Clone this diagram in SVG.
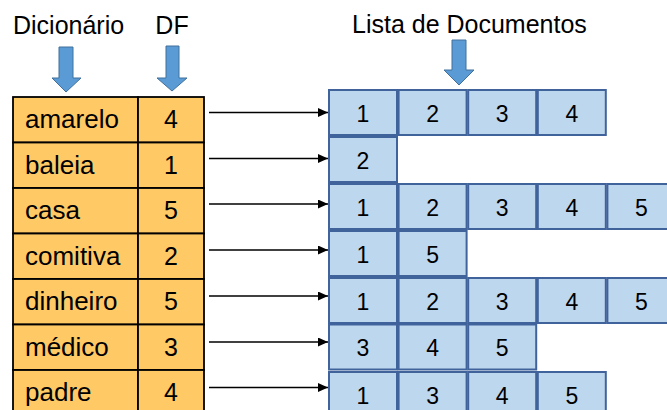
<svg xmlns="http://www.w3.org/2000/svg" width="667" height="410" viewBox="0 0 667 410">
<style>
text{font-family:"Liberation Sans",Arial,sans-serif;fill:#000}
.h{font-size:25px}
.w{font-size:26px}
.d{font-size:25px;text-anchor:middle}
.bd{font-size:23px;text-anchor:middle}
.cell{fill:#FFC966;stroke:#000;stroke-width:1.8}
.box{fill:#BDD7EE;stroke:#41639C;stroke-width:2}
.ba{fill:#5B9BD5;stroke:#41719C;stroke-width:1}
.conn{stroke:#000;stroke-width:1.6;fill:none;marker-end:url(#ah)}
</style>
<defs>
<marker id="ah" markerWidth="10" markerHeight="9" refX="10" refY="4.5" orient="auto" markerUnits="userSpaceOnUse">
<path d="M0,0 L10,4.5 L0,9 Z" fill="#000"/>
</marker>
</defs>
<rect width="667" height="410" fill="#fff"/>
<g id="headers">
<text class="h" x="13" y="34">Dicionário</text>
<text class="h" x="172" y="34" text-anchor="middle">DF</text>
<text class="h" x="352" y="33">Lista de Documentos</text>
<polygon class="ba" points="59,47 73,47 73,78 81,78 66,92 52,78 59,78"/>
<polygon class="ba" points="166,46 179,46 179,78 187,78 172,91 157,78 166,78"/>
<polygon class="ba" points="452,40 466,40 466,70 474,70 459,85 444,70 452,70"/>
</g>
<g id="table">
<g id="row-amarelo"><rect class="cell" x="13" y="97" width="125" height="45.5"/><rect class="cell" x="138" y="97" width="66" height="45.5"/><text class="w" x="25" y="128">amarelo</text><text class="d" x="171" y="128">4</text></g>
<g id="row-baleia"><rect class="cell" x="13" y="142.5" width="125" height="45.5"/><rect class="cell" x="138" y="142.5" width="66" height="45.5"/><text class="w" x="25" y="173.5">baleia</text><text class="d" x="171" y="173.5">1</text></g>
<g id="row-casa"><rect class="cell" x="13" y="188" width="125" height="45.5"/><rect class="cell" x="138" y="188" width="66" height="45.5"/><text class="w" x="25" y="219">casa</text><text class="d" x="171" y="219">5</text></g>
<g id="row-comitiva"><rect class="cell" x="13" y="233.5" width="125" height="45.5"/><rect class="cell" x="138" y="233.5" width="66" height="45.5"/><text class="w" x="25" y="264.5">comitiva</text><text class="d" x="171" y="264.5">2</text></g>
<g id="row-dinheiro"><rect class="cell" x="13" y="279" width="125" height="45.5"/><rect class="cell" x="138" y="279" width="66" height="45.5"/><text class="w" x="25" y="310">dinheiro</text><text class="d" x="171" y="310">5</text></g>
<g id="row-medico"><rect class="cell" x="13" y="324.5" width="125" height="45.5"/><rect class="cell" x="138" y="324.5" width="66" height="45.5"/><text class="w" x="25" y="355.5">médico</text><text class="d" x="171" y="355.5">3</text></g>
<g id="row-padre"><rect class="cell" x="13" y="370" width="125" height="45.5"/><rect class="cell" x="138" y="370" width="66" height="45.5"/><text class="w" x="25" y="401">padre</text><text class="d" x="171" y="401">4</text></g>
</g>
<g id="connectors">
<line class="conn" x1="209" y1="112.5" x2="328" y2="112.5"/>
<line class="conn" x1="209" y1="158.5" x2="328" y2="158.5"/>
<line class="conn" x1="209" y1="204" x2="328" y2="204"/>
<line class="conn" x1="209" y1="250" x2="328" y2="250"/>
<line class="conn" x1="209" y1="296" x2="328" y2="296"/>
<line class="conn" x1="209" y1="342" x2="328" y2="342"/>
<line class="conn" x1="209" y1="387.5" x2="328" y2="387.5"/>
</g>
<g id="list-amarelo">
<rect class="box" x="329" y="90" width="68" height="45"/><text class="bd" x="363" y="121.5">1</text>
<rect class="box" x="398.6" y="90" width="68" height="45"/><text class="bd" x="432.6" y="121.5">2</text>
<rect class="box" x="468.2" y="90" width="68" height="45"/><text class="bd" x="502.2" y="121.5">3</text>
<rect class="box" x="537.8" y="90" width="68" height="45"/><text class="bd" x="571.8" y="121.5">4</text>
</g>
<g id="list-baleia">
<rect class="box" x="329" y="137" width="68" height="45"/><text class="bd" x="363" y="168.5">2</text>
</g>
<g id="list-casa">
<rect class="box" x="329" y="184" width="68" height="45"/><text class="bd" x="363" y="215.5">1</text>
<rect class="box" x="398.6" y="184" width="68" height="45"/><text class="bd" x="432.6" y="215.5">2</text>
<rect class="box" x="468.2" y="184" width="68" height="45"/><text class="bd" x="502.2" y="215.5">3</text>
<rect class="box" x="537.8" y="184" width="68" height="45"/><text class="bd" x="571.8" y="215.5">4</text>
<rect class="box" x="607.4" y="184" width="68" height="45"/><text class="bd" x="641.4" y="215.5">5</text>
</g>
<g id="list-comitiva">
<rect class="box" x="329" y="231" width="68" height="45"/><text class="bd" x="363" y="262.5">1</text>
<rect class="box" x="398.6" y="231" width="68" height="45"/><text class="bd" x="432.6" y="262.5">5</text>
</g>
<g id="list-dinheiro">
<rect class="box" x="329" y="278" width="68" height="45"/><text class="bd" x="363" y="309.5">1</text>
<rect class="box" x="398.6" y="278" width="68" height="45"/><text class="bd" x="432.6" y="309.5">2</text>
<rect class="box" x="468.2" y="278" width="68" height="45"/><text class="bd" x="502.2" y="309.5">3</text>
<rect class="box" x="537.8" y="278" width="68" height="45"/><text class="bd" x="571.8" y="309.5">4</text>
<rect class="box" x="607.4" y="278" width="68" height="45"/><text class="bd" x="641.4" y="309.5">5</text>
</g>
<g id="list-medico">
<rect class="box" x="329" y="324.5" width="68" height="45"/><text class="bd" x="363" y="356">3</text>
<rect class="box" x="398.6" y="324.5" width="68" height="45"/><text class="bd" x="432.6" y="356">4</text>
<rect class="box" x="468.2" y="324.5" width="68" height="45"/><text class="bd" x="502.2" y="356">5</text>
</g>
<g id="list-padre">
<rect class="box" x="329" y="372" width="68" height="45"/><text class="bd" x="363" y="403.5">1</text>
<rect class="box" x="398.6" y="372" width="68" height="45"/><text class="bd" x="432.6" y="403.5">3</text>
<rect class="box" x="468.2" y="372" width="68" height="45"/><text class="bd" x="502.2" y="403.5">4</text>
<rect class="box" x="537.8" y="372" width="68" height="45"/><text class="bd" x="571.8" y="403.5">5</text>
</g>
</svg>
